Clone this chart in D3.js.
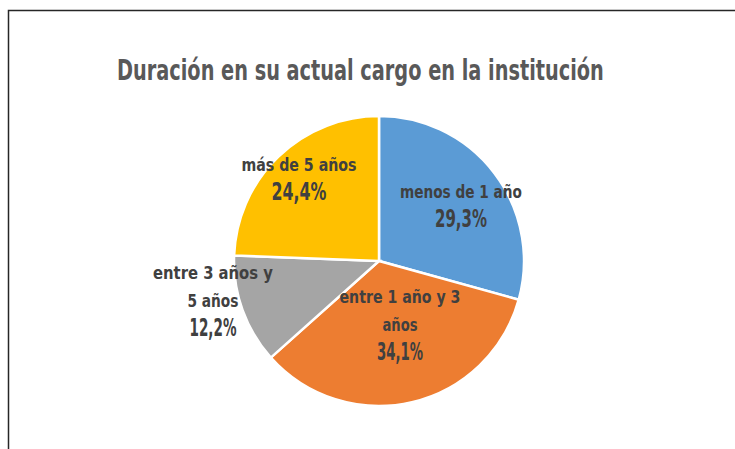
<!DOCTYPE html>
<html>
<head>
<meta charset="utf-8">
<script src="https://cdn.jsdelivr.net/npm/d3@7"></script>
<style>
  body { margin: 0; background: #fff; }
  svg text { font-family: "DejaVu Sans Condensed", "DejaVu Sans", sans-serif; font-weight: bold; }
</style>
</head>
<body>
<script>
// Size of the svg
var w = 735;
var h = 449;

// Chart data
var categories = ["menos de 1 año", "entre 1 año y 3 años", "entre 3 años y 5 años", "más de 5 años"];
var values = [29.3, 34.1, 12.2, 24.4];
var colors = ["#5B9BD5", "#ED7D31", "#A5A5A5", "#FFC000"];
// label lines as wrapped in the picture
var labelLines = [["menos  de 1 año"], ["entre  1 año  y 3", "años"], ["entre  3 años  y", "5 años"], ["más  de  5 años"]];
var percentLabels = ["29,3%", "34,1%", "12,2%", "24,4%"];
var titleText = "Duración  en su actual  cargo en la institución";

var svg = d3.select("body")
        .append("svg")
        .attr("width", w)
        .attr("height", h);

// chart border (only top and left visible in the crop)
svg.append("path")
    .attr("d", "M8.5," + h + "V10.5H" + w)
    .attr("fill", "none")
    .attr("stroke", "#262626")
    .attr("stroke-width", 1.5);

// squeeze a text horizontally so it spans the given width (condensed look)
function squeeze(sel, x, y, width, anchor) {
    var natural = sel.node().getComputedTextLength();
    var s = width / natural;
    var x0 = anchor === "middle" ? x - width / 2 : x;
    sel.attr("x", 0).attr("y", 0)
       .attr("text-anchor", "start")
       .attr("transform", "translate(" + x0 + "," + y + ") scale(" + s + ",1)");
}

// title
var title = svg.append("text")
    .attr("font-size", "29px")
    .attr("fill", "#595959")
    .text(titleText);
squeeze(title, 117, 80, 487, "start");

var cx = 379, cy = 261, r = 145;

var pie = d3.pie().sort(null).value(function(d) { return d; });
var arc = d3.arc().innerRadius(0).outerRadius(r);

var g = svg.append("g").attr("transform", "translate(" + cx + "," + cy + ")");

var arcs = pie(values);

g.selectAll("path")
    .data(arcs)
    .enter()
    .append("path")
    .attr("d", arc)
    .attr("fill", function(d, i) { return colors[i]; })
    .attr("stroke", "white")
    .attr("stroke-width", 2.5);

// label placement (centre x, baseline of first line) and widths
var labelPos = [[461, 198], [400, 303], [213, 279], [299, 171]];
var lineWidths = [[122], [121, 35], [120, 51], [115]];
var pctWidths = [52, 46, 47, 55];
var lineStep = 28;

arcs.forEach(function(d, i) {
    var lines = labelLines[i];
    lines.forEach(function(t, k) {
        var lab = svg.append("text")
            .attr("font-size", "18px")
            .attr("fill", "#404040")
            .text(t);
        squeeze(lab, labelPos[i][0], labelPos[i][1] + k * lineStep, lineWidths[i][k], "middle");
    });
    var pct = svg.append("text")
        .attr("font-size", "24px")
        .attr("fill", "#404040")
        .text(percentLabels[i]);
    squeeze(pct, labelPos[i][0], labelPos[i][1] + lines.length * lineStep + 1, pctWidths[i], "middle");
});
</script>
</body>
</html>
